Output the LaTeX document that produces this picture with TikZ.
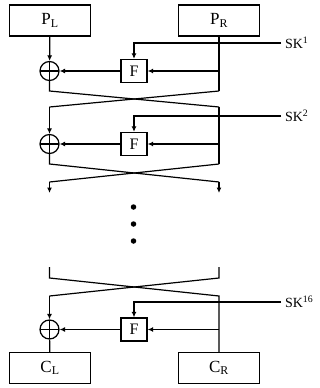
\documentclass[tikz,border=0pt]{standalone}
\usepackage{fontspec}
\setmainfont{Liberation Serif}
\usetikzlibrary{arrows.meta}
\tikzset{
  wire/.style={line width=1.2pt},
  arr/.style={wire,-{Latex[length=5.5pt,width=5pt]}},
  block/.style={draw,line width=1.3pt,minimum width=81pt,minimum height=31pt,inner sep=0pt,font=\fontsize{17}{17}\selectfont},
  fbox/.style={draw,line width=1.3pt,minimum width=26pt,minimum height=23pt,inner sep=0pt,font=\fontsize{16}{16}\selectfont},
  xor/.style={draw,circle,line width=1.2pt,minimum size=19pt,inner sep=0pt,
    path picture={\draw[line width=1.2pt] (path picture bounding box.north) -- (path picture bounding box.south)
      (path picture bounding box.west) -- (path picture bounding box.east);}},
  key/.style={anchor=west,inner sep=0pt,outer sep=4pt,font=\fontsize{14}{14}\selectfont},
  dot/.style={circle,fill,minimum size=5.5pt,inner sep=0pt}
}
\begin{document}
\begin{tikzpicture}[x=1pt,y=-1pt]
\useasboundingbox (0,0) rectangle (320,388);

% plaintext halves
\node[block] (PL) at (50,20.5) {P\textsubscript{L}};
\node[block] (PR) at (219,20.5) {P\textsubscript{R}};

% ---- round 1 ----
\node[fbox] (F1) at (134,71) {F};
\node[xor] (X1) at (49.5,71) {};
\node[key] (K1) at (281,43) {SK\textsuperscript{1}};
\coordinate (k1a) at (134,43);
\coordinate (r1) at (219,71);
\coordinate (r1e) at (219,91);
\coordinate (l1e) at (49.5,91);
\coordinate (l2s) at (49.5,107);
\coordinate (r2s) at (219,107);
\draw[arr] (PL) -- (X1);
\draw[wire] (PR) -- (r1e);
\draw[arr] (r1) -- (F1);
\draw[arr] (F1) -- (X1);
\draw[arr] (K1.west) -- (k1a) -- (F1);
\draw[wire] (X1) -- (l1e) -- (r2s);
\draw[wire] (r1e) -- (l2s);

% ---- round 2 ----
\node[fbox] (F2) at (134,144) {F};
\node[xor] (X2) at (49.5,144) {};
\node[key] (K2) at (281,116) {SK\textsuperscript{2}};
\coordinate (k2a) at (134,116);
\coordinate (r2) at (219,144);
\coordinate (r2e) at (219,164);
\coordinate (l2e) at (49.5,164);
\coordinate (l3s) at (49.5,182);
\coordinate (r3s) at (219,182);
\coordinate (l3a) at (49.5,193);
\coordinate (r3a) at (219,193);
\draw[arr] (l2s) -- (X2);
\draw[wire] (r2s) -- (r2e);
\draw[arr] (r2) -- (F2);
\draw[arr] (F2) -- (X2);
\draw[arr] (K2.west) -- (k2a) -- (F2);
\draw[wire] (X2) -- (l2e) -- (r3s);
\draw[arr] (r3s) -- (r3a);
\draw[wire] (r2e) -- (l3s);
\draw[arr] (l3s) -- (l3a);

% ellipsis between rounds
\node[dot] (d1) at (133.5,207) {};
\node[dot] (d2) at (133.5,224) {};
\node[dot] (d3) at (133.5,241) {};

% ---- round 16 ----
\coordinate (l16t) at (49.5,267);
\coordinate (r16t) at (219,267);
\coordinate (l16b) at (49.5,278);
\coordinate (r16b) at (219,278);
\coordinate (l16s) at (49.5,296);
\coordinate (r16s) at (219,296);
\node[fbox] (F3) at (134,329.5) {F};
\node[xor] (X3) at (49.5,329.5) {};
\node[key] (K3) at (281,302) {SK\textsuperscript{16}};
\coordinate (k3a) at (134,302);
\coordinate (r3) at (219,329.5);
\node[block] (CL) at (50,368) {C\textsubscript{L}};
\node[block] (CR) at (219,368) {C\textsubscript{R}};
\draw[wire] (l16t) -- (l16b) -- (r16s) -- (CR);
\draw[wire] (r16t) -- (r16b) -- (l16s);
\draw[arr] (l16s) -- (X3);
\draw[arr] (r3) -- (F3);
\draw[arr] (F3) -- (X3);
\draw[arr] (K3.west) -- (k3a) -- (F3);
\draw[wire] (X3) -- (CL);
\end{tikzpicture}
\end{document}
